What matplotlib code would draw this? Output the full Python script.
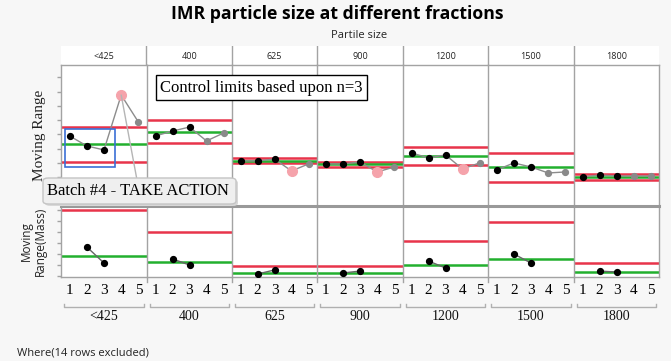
import matplotlib
matplotlib.use("Agg")
import matplotlib.pyplot as plt
from matplotlib.patches import Rectangle, ConnectionPatch, FancyBboxPatch
from matplotlib.lines import Line2D

# ---------------- data ----------------
groups = ['<425', '400', '625', '900', '1200', '1500', '1800']
batches = [1, 2, 3, 4, 5]

# Moving range (top) per group, batches 1..5
mr_top = [
    [4.90, 4.20, 3.92, 7.76, 5.87],
    [4.90, 5.24, 5.52, 4.55, 5.10],
    [3.15, 3.15, 3.29, 2.45, 2.94],
    [2.94, 2.94, 3.08, 2.38, 2.73],
    [3.71, 3.36, 3.57, 2.59, 3.01],
    [2.52, 3.01, 2.73, 2.31, 2.38],
    [2.03, 2.17, 2.10, 2.10, 2.10],
]
# point state: k = used, x = excluded, p = excluded & highlighted
top_state = ['kkkpx', 'kkkxx', 'kkkpx', 'kkkpx', 'kkkpx', 'kkkxx', 'kkkxx']
top_ucl = [5.52, 6.01, 3.36, 3.08, 4.13, 3.71, 2.24]
top_cl = [4.34, 5.17, 3.15, 2.94, 3.50, 2.73, 2.03]
top_lcl = [3.08, 4.41, 3.01, 2.73, 2.87, 1.68, 1.82]

# Moving range of mass (bottom), batches 2..3
mass_batches = [2, 3]
mr_mass = [
    [2.64, 1.18],
    [1.55, 1.00],
    [0.18, 0.55],
    [0.27, 0.45],
    [1.36, 0.73],
    [2.00, 1.18],
    [0.45, 0.36],
]
mass_ucl = [6.00, 4.00, 0.91, 0.91, 3.18, 4.91, 1.18]
mass_cl = [1.82, 1.27, 0.27, 0.27, 1.00, 1.55, 0.36]

# ---------------- layout ----------------
W, H = 671, 361
fig = plt.figure(figsize=(W / 100, H / 100), dpi=100)
fig.patch.set_facecolor('#f7f7f7')

def rect(x0, y0, x1, y1):
    return [x0 / W, 1 - y1 / H, (x1 - x0) / W, (y1 - y0) / H]

def fx(x):
    return x / W

def fy(y):
    return 1 - y / H

cols = [61, 147, 232, 317, 403, 488, 574, 659]
top_y = (65, 206)
bot_y = (206, 277)
RED = '#e8344a'
GREEN = '#22b02e'
SPINE = '#a3a3a3'
serif = ['Liberation Serif', 'DejaVu Serif']
sans = ['Open Sans', 'DejaVu Sans']

# header strip
hdr = fig.add_axes(rect(cols[0], 46, cols[-1], 65))
hdr.set_facecolor('white')
hdr.set_xlim(0, len(groups))
hdr.set_ylim(0, 1)
for s in hdr.spines.values():
    s.set_visible(False)
hdr.set_xticks([])
hdr.set_yticks([])
for i, g in enumerate(groups):
    hdr.text(i + 0.5, 0.45, g, ha='center', va='center', fontsize=6.5,
             family=sans, color='#222222')
    if i > 0:
        hdr.axvline(i, color=SPINE, lw=1)

top_axes = []
for i, g in enumerate(groups):
    # top panel
    ax = fig.add_axes(rect(cols[i], top_y[0], cols[i + 1], top_y[1]))
    top_axes.append(ax)
    ax.set_facecolor('white')
    ax.set_xlim(0.5, 5.5)
    ax.set_ylim(0, 9.86)
    ax.axhline(top_ucl[i], color=RED, lw=1.8, zorder=2)
    ax.axhline(top_lcl[i], color=RED, lw=1.8, zorder=2)
    ax.axhline(top_cl[i], color=GREEN, lw=1.8, zorder=2)
    ax.plot(batches, mr_top[i], color='#8c8c8c', lw=1, zorder=3)
    for b, v, st in zip(batches, mr_top[i], top_state[i]):
        if st == 'k':
            ax.plot(b, v, 'o', color='black', ms=4.2, zorder=4)
        elif st == 'x':
            ax.plot(b, v, 'o', color='#8a8a8a', ms=4.2, zorder=4)
        else:
            ax.plot(b, v, 'o', color='#f5a3ab', ms=7, zorder=4)
    ax.set_xticks([])
    for s in ax.spines.values():
        s.set_color(SPINE)
        s.set_linewidth(1)
    if i == 0:
        ax.set_yticks(range(1, 10))
        ax.set_yticklabels([])
        ax.tick_params(axis='y', length=3, color=SPINE, width=1)
    else:
        ax.set_yticks([])
        ax.spines['left'].set_visible(False)
    if i < len(groups) - 1:
        ax.spines['right'].set_visible(False)
    ax.spines['bottom'].set_visible(False)

    # bottom panel
    bx = fig.add_axes(rect(cols[i], bot_y[0], cols[i + 1], bot_y[1]))
    bx.set_facecolor('white')
    bx.set_xlim(0.5, 5.5)
    bx.set_ylim(-0.09, 6.36)
    bx.axhline(mass_ucl[i], color=RED, lw=1.8, zorder=2)
    bx.axhline(mass_cl[i], color=GREEN, lw=1.8, zorder=2)
    bx.plot(mass_batches, mr_mass[i], color='#666666', lw=1, zorder=3)
    bx.plot(mass_batches, mr_mass[i], 'o', color='black', ms=4.2, zorder=4)
    bx.set_xticks(batches)
    bx.set_xticklabels([str(b) for b in batches], family=serif, fontsize=11)
    bx.tick_params(axis='x', length=0, pad=5)
    for s in bx.spines.values():
        s.set_color(SPINE)
        s.set_linewidth(1)
    if i == 0:
        bx.set_yticks(range(0, 7))
        bx.set_yticklabels([])
        bx.tick_params(axis='y', length=3, color=SPINE, width=1)
    else:
        bx.set_yticks([])
        bx.spines['left'].set_visible(False)
    if i < len(groups) - 1:
        bx.spines['right'].set_visible(False)
    bx.spines['top'].set_visible(False)

    # group bracket and label
    x0, x1 = cols[i] + 3, cols[i + 1] - 3
    fig.add_artist(Line2D([fx(x0), fx(x0), fx(x1), fx(x1)],
                          [fy(304), fy(307), fy(307), fy(304)],
                          color='#b0b0b0', lw=1))
    fig.text(fx((cols[i] + cols[i + 1]) / 2), fy(317), g, ha='center',
             va='center', fontsize=10, family=serif, color='#111111')

# vertical separators through panels
for c in cols[1:-1]:
    fig.add_artist(Line2D([fx(c), fx(c)], [fy(65), fy(282)], color=SPINE, lw=1))

# thick separator between rows
fig.add_artist(Line2D([fx(cols[0]), fx(cols[-1])], [fy(206), fy(206)],
                      color='#999999', lw=2.2))

# titles
fig.text(fx(337), fy(14), 'IMR particle size at different fractions',
         ha='center', va='center', fontsize=12.7, fontweight='bold', family=sans)
fig.text(fx(359), fy(36), 'Partile size', ha='center', va='center',
         fontsize=8, family=sans, color='#222222')
fig.text(fx(40), fy(135), 'Moving Range', rotation=90, ha='center',
         va='center', fontsize=11, family=serif, color='#222222')
fig.text(fx(33), fy(241), 'Moving\nRange(Mass)', rotation=90, ha='center',
         va='center', fontsize=8.5, family=sans, color='#222222',
         linespacing=1.1)
fig.text(fx(17), fy(353), 'Where(14 rows excluded)', ha='left', va='center',
         fontsize=8, family=sans, color='#222222')

# annotations
fig.text(fx(160), fy(87.5), 'Control limits based upon n=3', ha='left',
         va='center', fontsize=12, family=serif, color='black',
         bbox=dict(boxstyle='square,pad=0.25', fc='white', ec='black', lw=1))

ax0 = top_axes[0]
ax0.add_patch(Rectangle((0.73, 2.73), 2.91, 2.65, fill=False,
                        ec='#3b6fd6', lw=1.2, zorder=5))

con = ConnectionPatch(xyA=(4, mr_top[0][3]), coordsA=ax0.transData,
                      xyB=(fx(137), fy(180)), coordsB=fig.transFigure,
                      color='#b5b5b5', lw=1, zorder=6)
fig.add_artist(con)

# callout box with shadow
fig.add_artist(FancyBboxPatch((fx(45), fy(206)), fx(193), 26 / H,
                              boxstyle='round,pad=0,rounding_size=0.008',
                              transform=fig.transFigure, fc='#d8d8d8',
                              ec='none', zorder=7))
fig.add_artist(FancyBboxPatch((fx(43), fy(204)), fx(193), 26 / H,
                              boxstyle='round,pad=0,rounding_size=0.008',
                              transform=fig.transFigure, fc='#efefef',
                              ec='#c4c4c4', lw=1, zorder=8))
fig.text(fx(47), fy(191), 'Batch #4 - TAKE ACTION', ha='left', va='center',
         fontsize=12, family=serif, color='black', zorder=9)

fig.savefig('out.png', dpi=100, facecolor=fig.get_facecolor())
